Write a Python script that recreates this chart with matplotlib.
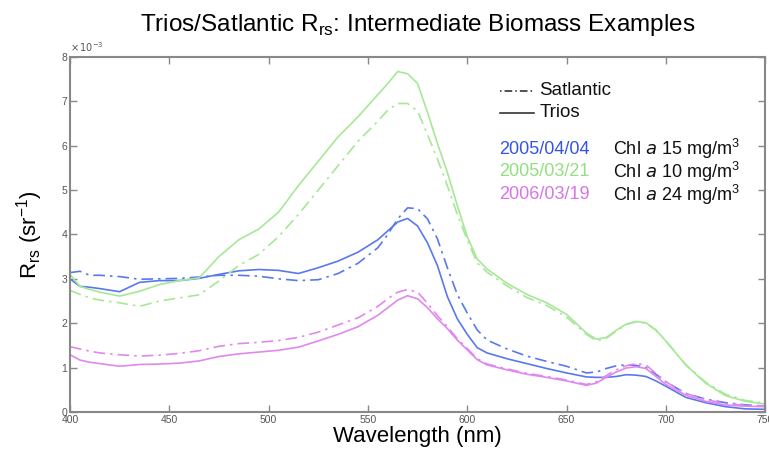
import numpy as np
import matplotlib
matplotlib.use("Agg")
import matplotlib.pyplot as plt

plt.rcParams["font.family"] = ["Liberation Sans", "DejaVu Sans"]

# wavelength grid (nm) and Rrs values (x 1e-3 sr^-1)
wavelength = [400, 405, 410, 415, 425, 435, 445, 455, 465, 475, 485, 495, 505, 515,
              525, 535, 545, 555, 560, 565, 570, 575, 580, 585, 590, 595, 600, 605,
              610, 620, 630, 640, 650, 660, 665, 670, 675, 680, 685, 690, 695, 700,
              710, 720, 730, 740, 750]

trios_0404 = [3.00, 2.83, 2.81, 2.78, 2.71, 2.92, 2.96, 2.96, 3.01, 3.10, 3.18, 3.21,
              3.19, 3.12, 3.25, 3.40, 3.60, 3.88, 4.08, 4.28, 4.36, 4.19, 3.81, 3.30,
              2.60, 2.10, 1.75, 1.45, 1.33, 1.20, 1.09, 0.98, 0.88, 0.79, 0.78, 0.78,
              0.80, 0.84, 0.83, 0.80, 0.70, 0.58, 0.33, 0.21, 0.12, 0.07, 0.06]
satl_0404 = [3.14, 3.17, 3.08, 3.08, 3.05, 2.99, 3.00, 3.01, 3.04, 3.08, 3.08, 3.06,
             3.00, 2.96, 2.98, 3.12, 3.35, 3.70, 4.00, 4.35, 4.60, 4.58, 4.35, 3.90,
             3.25, 2.65, 2.23, 1.85, 1.62, 1.42, 1.26, 1.14, 1.03, 0.88, 0.90, 0.98,
             1.04, 1.06, 1.05, 1.00, 0.85, 0.68, 0.42, 0.29, 0.21, 0.16, 0.13]

trios_0321 = [3.10, 2.83, 2.76, 2.70, 2.61, 2.72, 2.87, 2.96, 3.02, 3.50, 3.88, 4.12,
              4.50, 5.10, 5.65, 6.20, 6.65, 7.15, 7.40, 7.67, 7.62, 7.40, 6.75, 6.05,
              5.40, 4.65, 3.95, 3.45, 3.22, 2.90, 2.65, 2.46, 2.20, 1.78, 1.64, 1.68,
              1.84, 1.98, 2.04, 2.01, 1.85, 1.60, 1.06, 0.65, 0.37, 0.24, 0.18]
satl_0321 = [2.74, 2.65, 2.57, 2.52, 2.46, 2.38, 2.50, 2.57, 2.64, 2.95, 3.30, 3.55,
             3.95, 4.45, 5.00, 5.55, 6.10, 6.55, 6.80, 6.95, 6.95, 6.78, 6.25, 5.70,
             5.10, 4.45, 3.88, 3.36, 3.15, 2.84, 2.58, 2.40, 2.14, 1.75, 1.60, 1.66,
             1.82, 1.97, 2.03, 2.00, 1.84, 1.60, 1.07, 0.67, 0.40, 0.26, 0.20]

trios_0319 = [1.29, 1.17, 1.12, 1.09, 1.03, 1.07, 1.08, 1.10, 1.15, 1.25, 1.31, 1.35,
              1.39, 1.46, 1.60, 1.75, 1.92, 2.18, 2.35, 2.52, 2.62, 2.55, 2.35, 2.10,
              1.88, 1.62, 1.40, 1.18, 1.06, 0.95, 0.85, 0.78, 0.70, 0.60, 0.65, 0.78,
              0.90, 0.99, 1.02, 0.98, 0.80, 0.62, 0.38, 0.24, 0.16, 0.13, 0.12]
satl_0319 = [1.47, 1.42, 1.37, 1.33, 1.29, 1.26, 1.28, 1.32, 1.38, 1.48, 1.54, 1.57,
             1.61, 1.68, 1.80, 1.96, 2.12, 2.38, 2.55, 2.70, 2.76, 2.70, 2.45, 2.17,
             1.92, 1.65, 1.43, 1.20, 1.08, 0.97, 0.87, 0.80, 0.72, 0.62, 0.68, 0.82,
             0.95, 1.04, 1.09, 1.06, 0.87, 0.68, 0.42, 0.28, 0.19, 0.15, 0.14]

dates = ["2005/04/04", "2005/03/21", "2006/03/19"]
chl = [15, 10, 24]
colors = ["#5a78ee", "#a6e897", "#e088ee"]
text_colors = ["#3355e6", "#93e07f", "#d874ea"]

trios = [trios_0404, trios_0321, trios_0319]
satl = [satl_0404, satl_0321, satl_0319]

fig = plt.figure(figsize=(7.69, 4.57), dpi=100)
ax = fig.add_axes([0.091, 0.0985, 0.904, 0.777])

for t, s, c in zip(trios, satl, colors):
    ax.plot(wavelength, t, color=c, lw=1.2, ls="-")
    ax.plot(wavelength, s, color=c, lw=1.2, ls=(0, (7, 3, 1.5, 3)))

ax.set_xlim(400, 750)
ax.set_ylim(0, 8)
ax.set_xticks(np.arange(400, 751, 50))
ax.set_yticks(np.arange(0, 9, 1))

grey = "#888888"
for sp in ax.spines.values():
    sp.set_color(grey)
    sp.set_linewidth(1.5)
ax.tick_params(direction="in", length=5, width=1, color=grey,
               labelsize=7.5, labelcolor="#555555", pad=2,
               top=True, right=True)

ax.text(0.0, 1.008, r"$\times\,10^{-3}$", transform=ax.transAxes,
        fontsize=7, color="#555555", ha="left", va="bottom")

ax.set_title(r"Trios/Satlantic R$_{\mathregular{rs}}$: Intermediate Biomass Examples",
             fontsize=17.5, pad=19)
ax.set_xlabel("Wavelength (nm)", fontsize=16, labelpad=1)
ax.set_ylabel(r"R$_{\mathregular{rs}}$ (sr$^{\mathregular{-1}}$)", fontsize=16, labelpad=12)

# legend drawn by hand, as in the original
ax.plot([0.618, 0.667], [0.905, 0.905], transform=ax.transAxes, color="#222222",
        lw=1.1, ls=(0, (1, 2, 5, 2)))
ax.text(0.675, 0.905, "Satlantic", transform=ax.transAxes, fontsize=13.5,
        va="center", ha="left", color="#111111")
ax.plot([0.618, 0.667], [0.843, 0.843], transform=ax.transAxes, color="#222222",
        lw=1.1)
ax.text(0.675, 0.843, "Trios", transform=ax.transAxes, fontsize=13.5,
        va="center", ha="left", color="#111111")
for i, (d, v, tc) in enumerate(zip(dates, chl, text_colors)):
    y = 0.740 - i * 0.064
    ax.text(0.618, y, d, transform=ax.transAxes, fontsize=13, color=tc,
            va="center", ha="left")
    ax.text(0.781, y, r"Chl $\mathit{a}$ %d mg/m$^{\mathregular{3}}$" % v,
            transform=ax.transAxes, fontsize=13, color="#111111",
            va="center", ha="left")

fig.savefig("out.png", dpi=100)
